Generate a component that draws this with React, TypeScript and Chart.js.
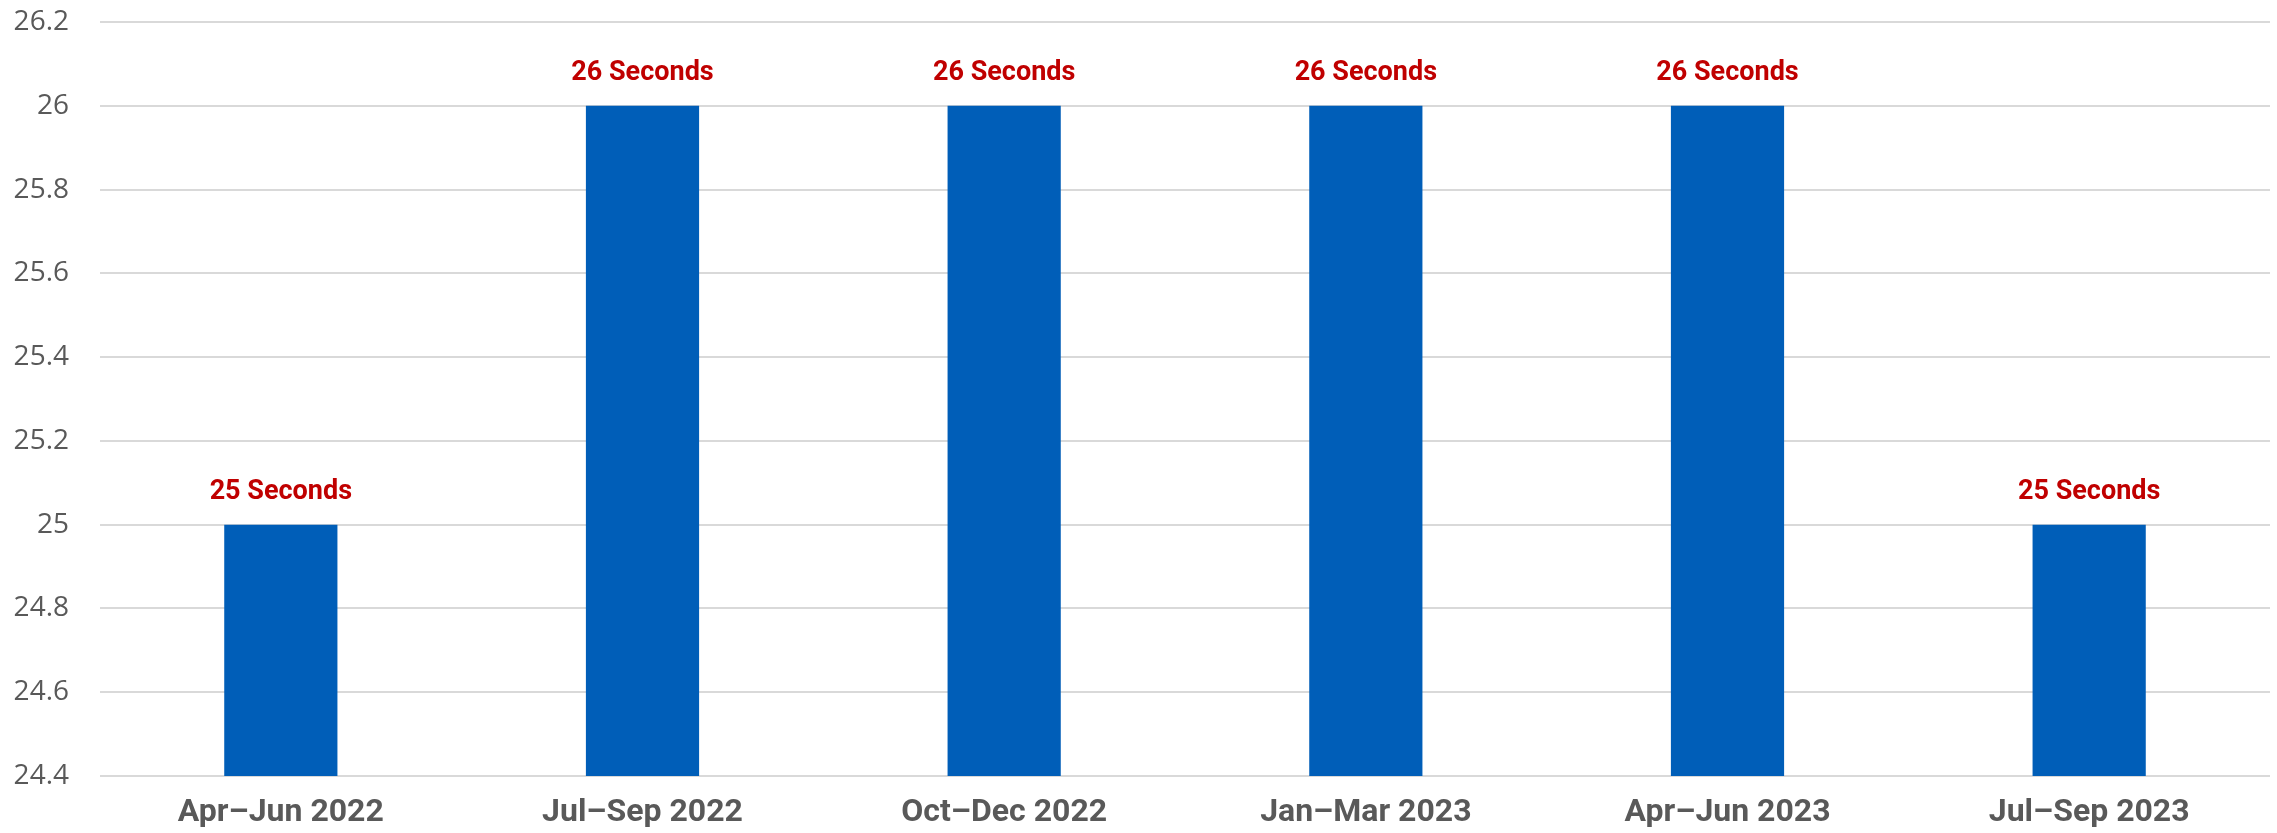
import React, { useEffect, useRef } from "react";
import { Chart, registerables } from "chart.js";

Chart.register(...registerables);

const categories = ["Apr–Jun 2022", "Jul–Sep 2022", "Oct–Dec 2022", "Jan–Mar 2023", "Apr–Jun 2023", "Jul–Sep 2023"];
const values = [25, 26, 26, 26, 26, 25];
const valueLabels = ["25 Seconds", "26 Seconds", "26 Seconds", "26 Seconds", "26 Seconds", "25 Seconds"];
const yMin = 24.4;
const yMax = 26.2;
const yStep = 0.2;

const BAR_COLOR = "#005EB8";
const LABEL_COLOR = "#C00000";
const AXIS_TEXT = "#595959";
const GRID = "#D9D9D9";

const dataLabelPlugin = {
  id: "valueLabels",
  afterDatasetsDraw(chart: any) {
    const ctx = chart.ctx;
    const meta = chart.getDatasetMeta(0);
    ctx.save();
    ctx.font = "bold 27px Roboto";
    ctx.fillStyle = LABEL_COLOR;
    ctx.textAlign = "center";
    ctx.textBaseline = "alphabetic";
    meta.data.forEach((bar: any, i: number) => {
      ctx.fillText(valueLabels[i], bar.x, bar.y - 26);
    });
    ctx.restore();
  },
};

export default function App() {
  const ref = useRef<HTMLCanvasElement | null>(null);
  useEffect(() => {
    document.body.style.margin = "0";
    const canvas = ref.current;
    if (!canvas) return;
    const chart = new Chart(canvas, {
      type: "bar",
      data: {
        labels: categories,
        datasets: [
          {
            data: values,
            backgroundColor: BAR_COLOR,
            borderWidth: 0,
            categoryPercentage: 1,
            barPercentage: 0.313,
          },
        ],
      },
      options: {
        animation: false,
        responsive: false,
        maintainAspectRatio: false,
        layout: { padding: { top: 22, right: 7, left: 0, bottom: 0 } },
        plugins: {
          legend: { display: false },
          tooltip: { enabled: false },
        },
        scales: {
          x: {
            grid: { display: false, drawTicks: false },
            border: { display: false },
            ticks: {
              color: AXIS_TEXT,
              font: { family: "Roboto", weight: "bold", size: 32 },
              padding: 18,
              maxRotation: 0,
              autoSkip: false,
            },
            afterFit: (scale: any) => {
              scale.height = 57;
              scale.paddingLeft = 0;
              scale.paddingRight = 0;
            },
          },
          y: {
            min: yMin,
            max: yMax,
            grid: { color: GRID, lineWidth: 2, drawTicks: false },
            border: { display: false },
            ticks: {
              stepSize: yStep,
              color: AXIS_TEXT,
              font: { family: "Open Sans", size: 28 },
              padding: 31,
              callback: (v: any) => String(Number(Number(v).toFixed(1))),
            },
            afterFit: (scale: any) => {
              scale.width = 100;
              scale.paddingTop = 0;
              scale.paddingBottom = 0;
            },
          },
        },
      },
      plugins: [dataLabelPlugin],
    });
    return () => chart.destroy();
  }, []);
  return <canvas ref={ref} width={2277} height={833} style={{ display: "block" }} />;
}
